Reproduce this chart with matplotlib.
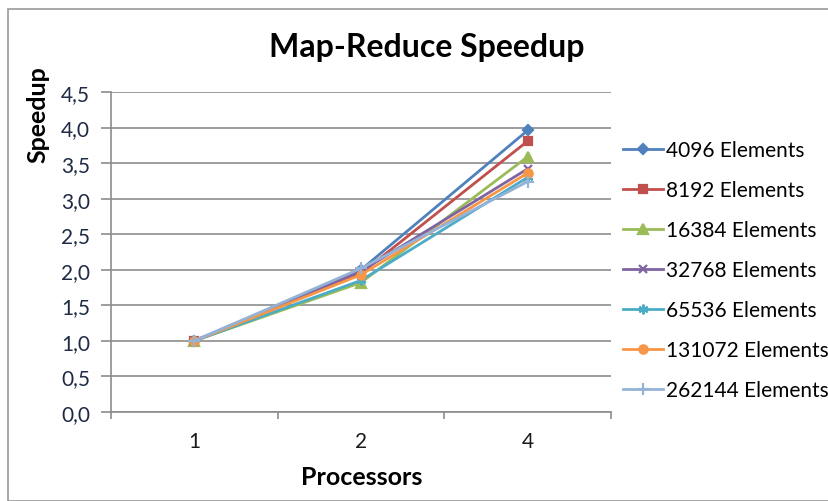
import matplotlib.pyplot as plt
from matplotlib.patches import Rectangle

plt.rcParams["font.family"] = ["Lato", "DejaVu Sans"]

processors = ["1", "2", "4"]
series_names = [
    "4096 Elements",
    "8192 Elements",
    "16384 Elements",
    "32768 Elements",
    "65536 Elements",
    "131072 Elements",
    "262144 Elements",
]
speedup_4096 = [1.0, 2.00, 3.96]
speedup_8192 = [1.0, 1.95, 3.81]
speedup_16384 = [1.0, 1.82, 3.59]
speedup_32768 = [1.0, 1.98, 3.42]
speedup_65536 = [1.0, 1.85, 3.30]
speedup_131072 = [1.0, 1.93, 3.36]
speedup_262144 = [1.0, 2.02, 3.24]

series = [speedup_4096, speedup_8192, speedup_16384, speedup_32768,
          speedup_65536, speedup_131072, speedup_262144]
colors = ["#4F81BD", "#C0504D", "#9BBB59", "#8064A2", "#4BACC6", "#F79646", "#95B3D7"]
markers = ["D", "s", "^", "x", (6, 2, 0), "o", "+"]
msizes = [5, 6, 7, 6, 7, 6, 8]

fig = plt.figure(figsize=(8.29, 5.02), dpi=100)
fig.patches.append(Rectangle((8 / 829, 0), 1, 1 - 10 / 502, transform=fig.transFigure,
                             fill=False, edgecolor="#9a9a9a", linewidth=1.2))

ax = fig.add_axes([111 / 829, 89 / 502, 500 / 829, 320 / 502])
x = list(range(len(processors)))
handles = []
for vals, name, c, m, ms in zip(series, series_names, colors, markers, msizes):
    h, = ax.plot(x, vals, color=c, marker=m, markersize=ms, linewidth=2.0,
                 markeredgewidth=1.6, label=name)
    handles.append(h)

ax.set_xlim(-0.5, 2.5)
ax.set_ylim(0, 4.5)
ax.set_yticks([i * 0.5 for i in range(10)])
ax.set_yticklabels([f"{i * 0.5:.1f}".replace(".", ",") for i in range(10)])
ax.set_xticks(x)
ax.set_xticklabels(processors)
ax.set_xticks([-0.5, 0.5, 1.5, 2.5], minor=True)
ax.tick_params(axis="x", which="major", length=0, pad=14, labelsize=15, labelcolor="#1a1a1a")
ax.tick_params(axis="x", which="minor", length=5, color="#8c8c8c", width=1.2)
ax.tick_params(axis="y", length=7, color="#8c8c8c", width=1.2, labelsize=15,
               labelcolor="#1f2a44", pad=8)
ax.grid(axis="y", color="#8c8c8c", linewidth=1.2)
ax.set_axisbelow(True)
for side in ["top", "right"]:
    ax.spines[side].set_visible(False)
for side in ["left", "bottom"]:
    ax.spines[side].set_color("#8c8c8c")
    ax.spines[side].set_linewidth(1.2)

fig.text(427 / 829, 1 - 48 / 502, "Map-Reduce Speedup", ha="center", va="center",
         fontsize=23, fontweight="bold")
fig.text(38 / 829, 1 - 115 / 502, "Speedup", ha="center", va="center", rotation=90,
         fontsize=18, fontweight="bold")
fig.text(362 / 829, 1 - 478 / 502, "Processors", ha="center", va="center",
         fontsize=18, fontweight="bold")

fig.legend(handles=handles, loc="upper left", bbox_to_anchor=(623 / 829, 1 - 141 / 502),
           frameon=False, fontsize=15, handlelength=1.9, handletextpad=0.15,
           labelspacing=0.96, borderaxespad=0, borderpad=0)

fig.savefig("out.png", dpi=100)
